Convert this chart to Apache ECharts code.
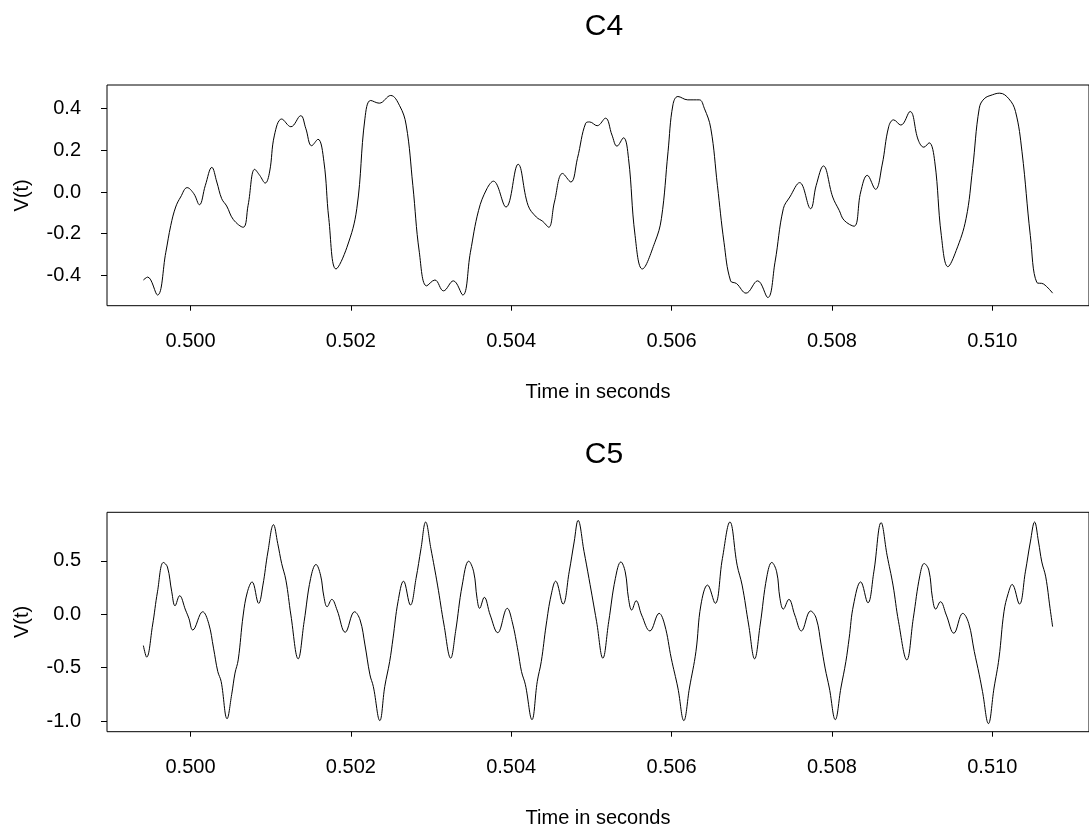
<!DOCTYPE html>
<html>
<head>
<meta charset="utf-8">
<script src="https://cdn.jsdelivr.net/npm/echarts@6/dist/echarts.min.js"></script>
<style>
html,body{margin:0;padding:0;background:#fff;overflow:hidden;}
#chart{width:1089px;height:830px;}
</style>
</head>
<body>
<div id="chart"></div>
<script>
// ---- Data ----
const c4Time = [
0.499412,0.499465,0.499588,0.499692,0.499754,0.499815,0.499877,0.499958,0.500041,0.500111,
0.500185,0.500266,0.500328,0.500389,0.500451,0.500534,0.500657,0.500718,0.500801,0.500863,
0.500932,0.500986,0.501047,0.501137,0.501252,0.501375,0.501437,0.501511,0.501590,0.501664,
0.501725,0.501815,0.501951,0.502074,0.502176,0.502247,0.502354,0.502497,0.502608,0.502690,
0.502773,0.502854,0.502945,0.503048,0.503155,0.503278,0.503396,0.503491,0.503593,0.503697,
0.503778,0.503935,0.504086,0.504210,0.504313,0.504394,0.504468,0.504539,0.504641,0.504744,
0.504826,0.504929,0.504978,0.505072,0.505176,0.505257,0.505319,0.505401,0.505463,0.505545,
0.505635,0.505792,0.505873,0.505956,0.506017,0.506079,0.506202,0.506346,0.506408,0.506489,
0.506572,0.506654,0.506736,0.506810,0.506929,0.507073,0.507200,0.507290,0.507394,0.507475,
0.507598,0.507734,0.507804,0.507894,0.508010,0.508091,0.508153,0.508276,0.508359,0.508441,
0.508544,0.508626,0.508708,0.508769,0.508860,0.508975,0.509077,0.509147,0.509213,0.509283,
0.509365,0.509447,0.509550,0.509673,0.509755,0.509838,0.509899,0.510001,0.510093,0.510207,
0.510290,0.510371,0.510475,0.510556,0.510639,0.510753];
const c4Volt = [
-0.422,-0.408,-0.494,-0.289,-0.160,-0.072,-0.024,0.021,-0.008,-0.061,
0.032,0.118,0.048,-0.032,-0.067,-0.132,-0.169,-0.064,0.109,0.080,
0.043,0.096,0.273,0.350,0.313,0.366,0.306,0.222,0.253,0.145,
-0.128,-0.369,-0.265,-0.080,0.354,0.439,0.426,0.463,0.414,0.321,
0.032,-0.289,-0.450,-0.422,-0.474,-0.426,-0.494,-0.289,-0.088,0.016,
0.052,-0.072,0.133,-0.064,-0.120,-0.141,-0.169,-0.048,0.089,0.048,
0.161,0.330,0.336,0.318,0.354,0.273,0.220,0.260,0.161,-0.209,
-0.369,-0.241,-0.128,0.193,0.418,0.458,0.442,0.442,0.402,0.306,
0.032,-0.241,-0.426,-0.439,-0.485,-0.426,-0.506,-0.337,-0.080,-0.024,
0.045,-0.080,0.032,0.125,-0.024,-0.088,-0.136,-0.164,0.000,0.080,
0.013,0.129,0.313,0.346,0.321,0.386,0.249,0.215,0.236,0.145,
-0.209,-0.358,-0.281,-0.128,0.113,0.402,0.447,0.466,0.474,0.447,
0.386,0.193,-0.209,-0.434,-0.441,-0.485];

const c5Time = [
0.499412,0.499453,0.499527,0.499588,0.499662,0.499712,0.499766,0.499807,0.499864,0.499938,
0.499979,0.500028,0.500152,0.500226,0.500287,0.500340,0.500382,0.500456,0.500513,0.500555,
0.500595,0.500657,0.500710,0.500768,0.500850,0.500903,0.500965,0.501035,0.501088,0.501137,
0.501190,0.501252,0.501343,0.501417,0.501498,0.501565,0.501622,0.501664,0.501704,0.501762,
0.501828,0.501930,0.502046,0.502115,0.502176,0.502238,0.502280,0.502361,0.502423,0.502484,
0.502526,0.502588,0.502657,0.502743,0.502813,0.502875,0.502933,0.502998,0.503081,0.503162,
0.503245,0.503306,0.503389,0.503470,0.503532,0.503574,0.503606,0.503664,0.503738,0.503832,
0.503951,0.504012,0.504086,0.504128,0.504177,0.504259,0.504325,0.504375,0.504436,0.504498,
0.504555,0.504646,0.504723,0.504785,0.504834,0.504908,0.504970,0.505065,0.505143,0.505216,
0.505299,0.505368,0.505422,0.505463,0.505503,0.505558,0.505627,0.505730,0.505845,0.505915,
0.505996,0.506079,0.506153,0.506223,0.506304,0.506366,0.506449,0.506544,0.506634,0.506728,
0.506818,0.506880,0.506962,0.507036,0.507105,0.507188,0.507250,0.507311,0.507352,0.507394,
0.507463,0.507537,0.507619,0.507734,0.507804,0.507866,0.507915,0.507968,0.508042,0.508112,
0.508174,0.508215,0.508269,0.508359,0.508449,0.508523,0.508614,0.508688,0.508762,0.508831,
0.508934,0.509015,0.509098,0.509151,0.509209,0.509255,0.509295,0.509353,0.509427,0.509521,
0.509632,0.509706,0.509776,0.509838,0.509878,0.509952,0.510022,0.510084,0.510146,0.510199,
0.510248,0.510339,0.510413,0.510475,0.510528,0.510577,0.510618,0.510667,0.510721,0.510753];
const c5Volt = [
-0.293,-0.401,-0.100,0.211,0.486,0.444,0.211,0.080,0.174,0.040,
-0.037,-0.147,0.024,-0.084,-0.317,-0.536,-0.629,-0.978,-0.753,-0.551,
-0.427,-0.007,0.211,0.304,0.103,0.274,0.584,0.840,0.663,0.476,
0.320,-0.007,-0.417,-0.069,0.336,0.467,0.367,0.164,0.071,0.140,
0.040,-0.168,0.024,-0.053,-0.287,-0.567,-0.676,-0.996,-0.676,-0.443,
-0.224,0.118,0.311,0.087,0.336,0.616,0.865,0.616,0.274,-0.100,
-0.411,-0.162,0.274,0.498,0.398,0.149,0.056,0.159,-0.007,-0.172,
0.056,-0.069,-0.349,-0.536,-0.660,-0.987,-0.629,-0.443,-0.100,0.180,
0.311,0.096,0.398,0.678,0.880,0.590,0.336,-0.069,-0.411,-0.069,
0.336,0.491,0.398,0.149,0.040,0.127,-0.007,-0.156,0.009,-0.100,
-0.411,-0.691,-0.996,-0.691,-0.349,0.087,0.274,0.103,0.523,0.865,
0.460,0.274,-0.100,-0.417,-0.100,0.351,0.486,0.398,0.149,0.049,
0.140,-0.007,-0.156,0.031,-0.037,-0.287,-0.504,-0.691,-0.987,-0.691,
-0.443,-0.224,0.087,0.304,0.108,0.398,0.859,0.554,0.274,-0.069,
-0.427,-0.037,0.367,0.476,0.414,0.149,0.049,0.118,-0.007,-0.177,
0.009,-0.084,-0.349,-0.567,-0.723,-1.024,-0.691,-0.411,0.024,0.196,
0.280,0.096,0.398,0.678,0.865,0.678,0.491,0.351,0.056,-0.116];

const xTicks = [0.500, 0.502, 0.504, 0.506, 0.508, 0.510];
const c4YTicks = [-0.4, -0.2, 0.0, 0.2, 0.4];
const c5YTicks = [-1.0, -0.5, 0.0, 0.5];
const titles = ['C4', 'C5'];
const xName = 'Time in seconds';
const yName = 'V(t)';

// R-style 4% padding of the data range
function padRange(arr) {
  const lo = Math.min(...arr), hi = Math.max(...arr);
  const p = (hi - lo) * 0.04;
  return [lo - p, hi + p];
}

const FONT = "'Liberation Sans', Arial, Helvetica, sans-serif";
const chart = echarts.init(document.getElementById('chart'), null, {renderer: 'canvas'});

const xr4 = padRange(c4Time), xr5 = padRange(c5Time);
const yr4 = padRange(c4Volt), yr5 = padRange(c5Volt);

function xAxisCfg(gridIndex, range) {
  return {
    type: 'value', gridIndex: gridIndex, position: 'bottom', min: range[0], max: range[1],
    name: xName, nameLocation: 'middle', nameGap: 77,
    nameTextStyle: {color: '#000', fontSize: 20, fontFamily: FONT},
    axisLine: {show: false, onZero: false},
    axisTick: {show: true, inside: false, length: 5, lineStyle: {color: '#000', width: 1}, customValues: xTicks},
    axisLabel: {color: '#000', fontSize: 20, fontFamily: FONT, margin: 26,
      customValues: xTicks, formatter: v => v.toFixed(3)},
    splitLine: {show: false}
  };
}
function yAxisCfg(gridIndex, range, ticks) {
  return {
    type: 'value', gridIndex: gridIndex, position: 'left', min: range[0], max: range[1],
    name: yName, nameLocation: 'middle', nameGap: 75, nameRotate: 90,
    nameTextStyle: {color: '#000', fontSize: 20, fontFamily: FONT},
    axisLine: {show: false, onZero: false},
    axisTick: {show: true, inside: false, length: 6, lineStyle: {color: '#000', width: 1}, customValues: ticks},
    axisLabel: {color: '#000', fontSize: 20, fontFamily: FONT, margin: 26,
      customValues: ticks, formatter: v => v.toFixed(1)},
    splitLine: {show: false}
  };
}

const option = {
  backgroundColor: '#fff',
  animation: false,
  grid: [
    {left: 107, top: 85, width: 993.8, height: 220.7, show: true, borderColor: '#000', borderWidth: 1, backgroundColor: 'transparent'},
    {left: 107, top: 512.3, width: 993.8, height: 219.4, show: true, borderColor: '#000', borderWidth: 1, backgroundColor: 'transparent'}
  ],
  xAxis: [xAxisCfg(0, xr4), xAxisCfg(1, xr5)],
  yAxis: [yAxisCfg(0, yr4, c4YTicks), yAxisCfg(1, yr5, c5YTicks)],
  graphic: [
    {type: 'text', x: 604, y: 27, style: {text: titles[0], fill: '#000', font: '30px ' + FONT, textAlign: 'center', textVerticalAlign: 'middle'}},
    {type: 'text', x: 604, y: 455, style: {text: titles[1], fill: '#000', font: '30px ' + FONT, textAlign: 'center', textVerticalAlign: 'middle'}}
  ],
  series: [
    {type: 'line', xAxisIndex: 0, yAxisIndex: 0, showSymbol: false, smooth: 0.4,
     lineStyle: {color: '#000', width: 1}, data: c4Time.map((t, i) => [t, c4Volt[i]])},
    {type: 'line', xAxisIndex: 1, yAxisIndex: 1, showSymbol: false, smooth: 0.4,
     lineStyle: {color: '#000', width: 1}, data: c5Time.map((t, i) => [t, c5Volt[i]])}
  ]
};
chart.setOption(option);
</script>
</body>
</html>
